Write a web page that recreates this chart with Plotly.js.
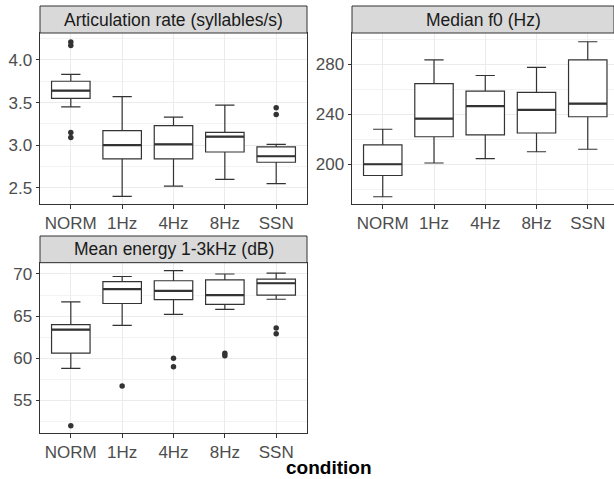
<!DOCTYPE html>
<html><head><meta charset="utf-8">
<script src="https://cdn.plot.ly/plotly-3.0.1.min.js"></script>
<style>html,body{margin:0;padding:0;background:#fff}#chart{width:614px;height:479px}</style>
</head><body><div id="chart"></div>
<script>
// ---- data ----
const categories = ["NORM", "1Hz", "4Hz", "8Hz", "SSN"];
const panelTitles = ["Articulation rate (syllables/s)", "Median f0 (Hz)", "Mean energy 1-3kHz (dB)"];
const xTitle = "condition";

const artLower = [3.45, 2.40, 2.52, 2.60, 2.55];
const artQ1    = [3.55, 2.84, 2.84, 2.92, 2.80];
const artMed   = [3.64, 3.00, 3.01, 3.10, 2.87];
const artQ3    = [3.75, 3.17, 3.23, 3.15, 2.98];
const artUpper = [3.83, 3.57, 3.33, 3.47, 3.01];
const artOut   = [[4.21, 4.17, 3.15, 3.09], [], [], [], [3.44, 3.36]];

const f0Lower = [174, 201, 204.5, 210, 212];
const f0Q1    = [191, 222, 223.5, 225, 238];
const f0Med   = [200, 236.5, 246.5, 243.5, 248.5];
const f0Q3    = [215.5, 264.5, 258.5, 257.5, 283.5];
const f0Upper = [228, 283.5, 271, 277.5, 298];
const f0Out   = [[], [], [], [], []];

const enLower = [58.8, 63.9, 65.2, 65.8, 67.0];
const enQ1    = [60.6, 66.5, 66.95, 66.4, 67.5];
const enMed   = [63.4, 68.2, 68.0, 67.5, 68.9];
const enQ3    = [64.0, 69.1, 69.2, 69.3, 69.4];
const enUpper = [66.7, 69.7, 70.4, 70.0, 70.1];
const enOut   = [[52.0], [56.7], [60.0, 59.0], [60.6, 60.3], [63.6, 62.9]];

// ---- layout geometry (px) ----
const W = 614, H = 479;
const FONT = "Liberation Sans, Arial, sans-serif";
const DARK = "#333333";
const BOXW = 0.75;
const panels = [
  {x0: 40, x1: 307, st: 6, pt: 33, pb: 204, xr: [-0.6, 4.6], yr: [2.31, 4.316], dt: 0.5, mdt: 0.25, fmt: ".1f",
   d: [artLower, artQ1, artMed, artQ3, artUpper, artOut], mirrorY: true},
  {x0: 352, x1: 614, st: 6, pt: 33, pb: 204, xr: [-0.6, 4.512], yr: [168.2, 305], dt: 40, mdt: 20, fmt: "",
   d: [f0Lower, f0Q1, f0Med, f0Q3, f0Upper, f0Out], mirrorY: false},
  {x0: 40, x1: 307, st: 236, pt: 262.7, pb: 433.3, xr: [-0.6, 4.6], yr: [51.09, 71.34], dt: 5, mdt: 2.5, fmt: "",
   d: [enLower, enQ1, enMed, enQ3, enUpper, enOut], mirrorY: true}
];

const px = v => v / W;
const py = v => 1 - v / H;
const xs = categories.map((c, i) => i);

const traces = [];
const layout = {
  width: W, height: H, margin: {l: 0, r: 0, t: 0, b: 0},
  paper_bgcolor: "#ffffff", plot_bgcolor: "#ffffff", showlegend: false,
  font: {family: FONT, size: 17, color: "#4D4D4D"},
  shapes: [], annotations: []
};

panels.forEach((p, k) => {
  const n = k === 0 ? "" : String(k + 1);
  const xa = "x" + n, ya = "y" + n;
  const [lo, q1, md, q3, hi, out] = p.d;
  traces.push({
    type: "box", xaxis: xa, yaxis: ya, x: xs, q1: q1, median: md, q3: q3,
    lowerfence: lo, upperfence: hi, width: BOXW, whiskerwidth: 0.5,
    fillcolor: "#ffffff", line: {color: DARK, width: 1.2}, boxpoints: false, hoverinfo: "skip"
  });
  // thicker median line
  const mx = [], my = [];
  md.forEach((v, i) => { mx.push(i - BOXW / 2, i + BOXW / 2, null); my.push(v, v, null); });
  traces.push({type: "scatter", mode: "lines", xaxis: xa, yaxis: ya, x: mx, y: my,
    line: {color: DARK, width: 2.2}, hoverinfo: "skip"});
  // outliers
  const ox = [], oy = [];
  out.forEach((arr, i) => arr.forEach(v => { ox.push(i); oy.push(v); }));
  if (ox.length) traces.push({type: "scatter", mode: "markers", xaxis: xa, yaxis: ya, x: ox, y: oy,
    marker: {color: DARK, size: 5.5}, hoverinfo: "skip"});

  layout["xaxis" + n] = {
    domain: [px(p.x0), px(p.x1)], anchor: ya, range: p.xr, tickmode: "array",
    tickvals: xs, ticktext: categories, showgrid: true, gridcolor: "#EBEBEB", gridwidth: 1,
    zeroline: false, showline: true, mirror: true, linecolor: DARK, linewidth: 1,
    ticks: "outside", ticklen: 3.5, tickcolor: DARK, tickwidth: 1,
    tickfont: {family: FONT, size: 17, color: "#4D4D4D"}, fixedrange: true
  };
  layout["yaxis" + n] = {
    domain: [py(p.pb), py(p.pt)], anchor: xa, range: p.yr, dtick: p.dt, tick0: 0,
    tickformat: p.fmt, showgrid: true, gridcolor: "#EBEBEB", gridwidth: 1,
    minor: {dtick: p.mdt, tick0: 0, showgrid: true, gridcolor: "#F3F3F3", gridwidth: 1, ticks: ""},
    zeroline: false, showline: true, mirror: p.mirrorY, linecolor: DARK, linewidth: 1,
    ticks: "outside", ticklen: 3.5, tickcolor: DARK, tickwidth: 1,
    tickfont: {family: FONT, size: 17, color: "#4D4D4D"}, fixedrange: true
  };
  // facet strip
  layout.shapes.push({type: "rect", xref: "paper", yref: "paper",
    x0: px(p.x0), x1: px(p.x1), y0: py(p.pt), y1: py(p.st),
    fillcolor: "#D9D9D9", line: {color: DARK, width: 1}, layer: "above"});
  layout.annotations.push({xref: "paper", yref: "paper",
    x: px((p.x0 + Math.min(p.x1, p.x0 + 267)) / 2), y: py((p.st + p.pt) / 2),
    xanchor: "center", yanchor: "middle", showarrow: false, text: panelTitles[k],
    font: {family: FONT, size: 17.5, color: "#1A1A1A"}});
});

layout.annotations.push({xref: "paper", yref: "paper", x: px(328), y: py(467),
  xanchor: "center", yanchor: "middle", showarrow: false, text: "<b>" + xTitle + "</b>",
  font: {family: FONT, size: 19, color: "#000000"}});

Plotly.newPlot("chart", traces, layout, {displayModeBar: false, staticPlot: true});
</script></body></html>
